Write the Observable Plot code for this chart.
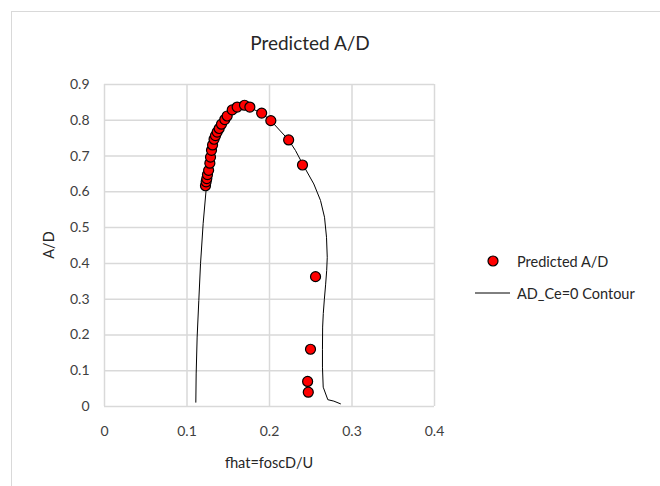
<!DOCTYPE html>
<html>
<head>
<meta charset="utf-8">
<script src="https://cdn.jsdelivr.net/npm/d3@7"></script>
<script src="https://cdn.jsdelivr.net/npm/@observablehq/plot@0.6"></script>
<style>
  html, body { margin: 0; padding: 0; background: #fff; overflow: hidden; }
  body { font-family: Lato, "Open Sans", sans-serif; color: #404040; }
  #wrap { position: relative; width: 660px; height: 486px; overflow: hidden; }
  #border { position: absolute; left: 11px; top: 11px; width: 700px; height: 520px; border: 1.5px solid #d9d9d9; box-sizing: border-box; }
  #chart { position: absolute; left: 0; top: 0; }
  .lbl { position: absolute; white-space: nowrap; color: #404040; }
  #title { left: 310px; top: 42px; transform: translate(-50%, -50%); font-size: 19px; color: #262626; }
  #xlabel { left: 269px; top: 462px; transform: translate(-50%, -50%); font-size: 14.5px; color: #262626; }
  #ylabel { left: 48px; top: 245px; transform: translate(-50%, -50%) rotate(-90deg); font-size: 14.5px; color: #262626; }
  .legtext { font-size: 14.5px; transform: translateY(-50%); color: #262626; }
</style>
</head>
<body>
<div id="wrap">
  <div id="border"></div>
  <div id="chart"></div>
  <div class="lbl" id="title"></div>
  <div class="lbl" id="xlabel"></div>
  <div class="lbl" id="ylabel"></div>
  <svg id="legsvg" width="660" height="486" style="position:absolute;left:0;top:0"></svg>
  <div class="lbl legtext" id="leg1" style="left:517px;top:261px"></div>
  <div class="lbl legtext" id="leg2" style="left:517px;top:293px"></div>
</div>
<script>
// ---- data ----
const titleText = "Predicted A/D";
const xTitle = "fhat=foscD/U";
const yTitle = "A/D";
const seriesNames = ["Predicted A/D", "AD_Ce=0 Contour"];

const xTicks = [0, 0.1, 0.2, 0.3, 0.4];
const yTicks = [0, 0.1, 0.2, 0.3, 0.4, 0.5, 0.6, 0.7, 0.8, 0.9];

const predX = [0.1224, 0.1232, 0.1240, 0.1248, 0.1262, 0.1277, 0.1285, 0.1297, 0.1310, 0.1328,
               0.1345, 0.1366, 0.1390, 0.1418, 0.1458, 0.1487, 0.1548, 0.1608, 0.1697, 0.1762,
               0.1905, 0.2016, 0.2232, 0.2400, 0.2558, 0.2497, 0.2462, 0.2470];
const predY = [0.617, 0.628, 0.637, 0.648, 0.660, 0.680, 0.697, 0.716, 0.731, 0.747,
               0.757, 0.767, 0.777, 0.789, 0.802, 0.812, 0.829, 0.837, 0.842, 0.837,
               0.820, 0.799, 0.745, 0.675, 0.363, 0.160, 0.070, 0.040];

const contX = [0.1107, 0.1111, 0.1123, 0.1143, 0.1164, 0.1196, 0.1236, 0.1262, 0.1297, 0.1345,
               0.1418, 0.1548, 0.1697, 0.1905, 0.2016, 0.2232, 0.2315, 0.2408, 0.2537, 0.2618,
               0.2667, 0.2691, 0.2700, 0.2693, 0.2680, 0.2665, 0.2652, 0.2644, 0.2642, 0.2642,
               0.2651, 0.2707, 0.2780, 0.2860];
const contY = [0.012, 0.091, 0.194, 0.296, 0.399, 0.512, 0.617, 0.660, 0.716, 0.757,
               0.789, 0.829, 0.842, 0.820, 0.799, 0.745, 0.7155, 0.675, 0.622, 0.576,
               0.529, 0.473, 0.417, 0.380, 0.340, 0.300, 0.260, 0.222, 0.160, 0.110,
               0.054, 0.019, 0.015, 0.0075];

const pred = predX.map((x, i) => ({x, y: predY[i]}));
const cont = contX.map((x, i) => ({x, y: contY[i]}));

const gridColor = "#d9d9d9";
const fmt = d => d === 0 ? "0" : d3.format(".1f")(d);

const chart = Plot.plot({
  width: 660,
  height: 486,
  marginLeft: 104,
  marginRight: 226,
  marginTop: 84,
  marginBottom: 80,
  style: {fontFamily: "Lato, 'Open Sans', sans-serif", fontSize: "14px", color: "#404040", background: "transparent"},
  x: {domain: [0, 0.4]},
  y: {domain: [0, 0.9]},
  marks: [
    Plot.gridX(xTicks, {stroke: gridColor, strokeOpacity: 1, strokeWidth: 1.5}),
    Plot.gridY(yTicks, {stroke: gridColor, strokeOpacity: 1, strokeWidth: 1.5}),
    Plot.axisX(xTicks, {tickSize: 0, tickPadding: 20, tickFormat: fmt, label: null, fill: "#404040"}),
    Plot.axisY(yTicks, {tickSize: 0, tickPadding: 15, tickFormat: fmt, label: null, fill: "#404040"}),
    Plot.line(cont, {x: "x", y: "y", stroke: "#000", strokeWidth: 1}),
    Plot.dot(pred, {x: "x", y: "y", r: 5, fill: "#ff0000", stroke: "#000", strokeWidth: 1.2})
  ]
});
document.getElementById("chart").appendChild(chart);

document.getElementById("title").textContent = titleText;
document.getElementById("xlabel").textContent = xTitle;
document.getElementById("ylabel").textContent = yTitle;
document.getElementById("leg1").textContent = seriesNames[0];
document.getElementById("leg2").textContent = seriesNames[1];

// legend symbols
const ls = d3.select("#legsvg");
ls.append("circle").attr("cx", 493).attr("cy", 261).attr("r", 5)
  .attr("fill", "#ff0000").attr("stroke", "#000").attr("stroke-width", 1.2);
ls.append("line").attr("x1", 475).attr("x2", 510).attr("y1", 293).attr("y2", 293)
  .attr("stroke", "#000").attr("stroke-width", 1);
</script>
</body>
</html>
